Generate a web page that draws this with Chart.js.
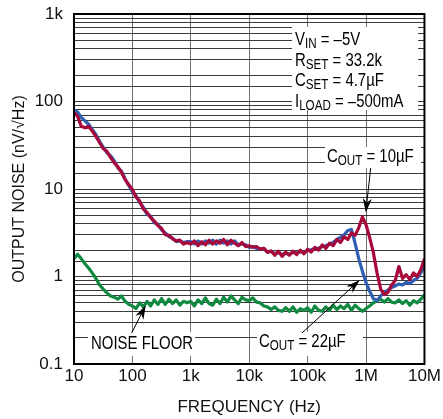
<!DOCTYPE html>
<html>
<head>
<meta charset="utf-8">
<script src="https://cdn.jsdelivr.net/npm/chart.js@4/dist/chart.umd.min.js"></script>
<style>
  body { margin: 0; background: #fff; }
  #wrap { width: 443px; height: 419px; }
</style>
</head>
<body>
<div id="wrap"><canvas id="noiseChart" width="443" height="419"></canvas></div>
<script>
// frequency points (Hz), 16 per decade
var freqHz = [
  10, 11.5, 13.3, 15.4, 17.8, 20.5, 23.7, 27.4, 31.6, 36.5, 42.2, 48.7, 56.2, 64.9, 75, 86.6,
  100, 115, 133, 154, 178, 205, 237, 274, 316, 365, 422, 487, 562, 649, 750, 866,
  1000, 1150, 1330, 1540, 1780, 2050, 2370, 2740, 3160, 3650, 4220, 4870, 5620, 6490, 7500, 8660,
  10000, 11500, 13300, 15400, 17800, 20500, 23700, 27400, 31600, 36500, 42200, 48700, 56200, 64900, 75000, 86600,
  100000, 115000, 133000, 154000, 178000, 205000, 237000, 274000, 316000, 365000, 422000, 487000, 562000, 649000, 750000, 866000,
  1000000, 1150000, 1330000, 1540000, 1780000, 2050000, 2370000, 2740000, 3160000, 3650000, 4220000, 4870000, 5620000, 6490000, 7500000, 8660000,
  10000000
];

// COUT = 10uF (nV/rtHz)
var cout10 = [
  75, 68, 52, 50, 52, 46, 40, 34, 29, 27, 23, 20, 18, 15.5, 12.8, 11.2,
  9.9, 8.1, 7.3, 5.9, 5.4, 4.7, 4.3, 3.8, 3.55, 3.0, 2.95, 2.7, 2.55, 2.6, 2.35, 2.45,
  2.35, 2.55, 2.25, 2.5, 2.3, 2.6, 2.35, 2.55, 2.4, 2.65, 2.3, 2.6, 2.4, 2.25, 2.45, 2.2,
  2.25, 2.15, 2.2, 2.05, 2.1, 1.9, 1.95, 1.75, 1.95, 1.7, 1.9, 1.75, 1.95, 1.78, 2.0, 1.82,
  2.05, 1.9, 2.15, 2.0, 2.3, 2.1, 2.4, 2.25, 2.65, 2.45, 2.85, 2.65, 3.15, 2.95, 3.6, 4.8,
  3.9, 2.8, 1.9, 1.1, 0.72, 0.62, 0.66, 0.8, 0.9, 1.3, 0.95, 1.05, 0.92, 1.1, 1.0, 1.2,
  1.6
];

// COUT = 22uF
var cout22 = [
  80, 76, 66, 60, 55, 48, 42, 35, 30, 26, 24, 21, 17.5, 16, 13, 11,
  9.3, 8.4, 7.0, 6.2, 5.1, 4.9, 4.1, 3.95, 3.4, 3.15, 2.85, 2.75, 2.5, 2.55, 2.45, 2.5,
  2.5, 2.35, 2.55, 2.35, 2.55, 2.4, 2.6, 2.35, 2.6, 2.4, 2.55, 2.35, 2.55, 2.3, 2.35, 2.3,
  2.15, 2.2, 2.1, 2.05, 2.1, 1.9, 1.95, 1.82, 1.88, 1.78, 1.84, 1.8, 1.88, 1.86, 1.92, 1.9,
  1.98, 2.02, 2.1, 2.1, 2.2, 2.25, 2.35, 2.45, 2.65, 2.8, 3.0, 3.35, 3.45, 2.4, 1.6, 1.15,
  0.85, 0.68, 0.56, 0.53, 0.6, 0.66, 0.7, 0.75, 0.78, 0.82, 0.8, 0.86, 0.83, 0.9, 0.95, 1.1,
  1.3
];

// noise floor
var noiseFloor = [
  1.6, 1.8, 1.6, 1.4, 1.25, 1.1, 0.95, 0.8, 0.72, 0.65, 0.6, 0.58, 0.55, 0.6, 0.52, 0.48,
  0.46, 0.43, 0.5, 0.45, 0.52, 0.46, 0.54, 0.48, 0.56, 0.48, 0.55, 0.49, 0.54, 0.47, 0.52, 0.5,
  0.52, 0.46, 0.54, 0.49, 0.57, 0.49, 0.47, 0.55, 0.49, 0.58, 0.51, 0.6, 0.54, 0.49, 0.58, 0.54,
  0.53, 0.57, 0.51, 0.5, 0.46, 0.45, 0.42, 0.45, 0.41, 0.4, 0.44, 0.4, 0.45, 0.39, 0.43, 0.41,
  0.44, 0.39, 0.46, 0.41, 0.4, 0.45, 0.41, 0.47, 0.42, 0.46, 0.43, 0.48, 0.41, 0.47, 0.43, 0.4,
  0.43, 0.46, 0.5, 0.53, 0.55, 0.51, 0.56, 0.51, 0.5, 0.54, 0.49, 0.53, 0.47, 0.53, 0.5, 0.55,
  0.62
];

var xLabels = { 1: '10', 2: '100', 3: '1k', 4: '10k', 5: '100k', 6: '1M', 7: '10M' };
var yLabels = { '-1': '0.1', 0: '1', 1: '10', 2: '100', 3: '1k' };

var FONT = '"Liberation Sans", Arial, sans-serif';
var SQUEEZE = 0.83; // condensed look for the notes

function pts(vals) {
  return freqHz.map(function (f, i) { return { x: f, y: vals[i] }; });
}
function decade(v) {
  var l = Math.log10(v);
  return Math.abs(l - Math.round(l)) < 1e-6 ? Math.round(l) : null;
}

// text with a subscript part, squeezed horizontally
function subText(ctx, x, y, main, sub, rest, size) {
  ctx.save();
  ctx.translate(x, y);
  ctx.scale(SQUEEZE, 1);
  var cx = 0;
  ctx.font = size + 'px ' + FONT;
  ctx.fillText(main, cx, 0);
  cx += ctx.measureText(main).width;
  ctx.font = Math.round(size * 0.78) + 'px ' + FONT;
  ctx.fillText(sub, cx, 4);
  cx += ctx.measureText(sub).width;
  ctx.font = size + 'px ' + FONT;
  ctx.fillText(rest, cx, 0);
  ctx.restore();
}

function arrow(ctx, x1, y1, x2, y2) {
  var a = Math.atan2(y2 - y1, x2 - x1);
  var c = Math.cos(a), s = Math.sin(a);
  ctx.strokeStyle = '#000';
  ctx.fillStyle = '#000';
  ctx.lineWidth = 1;
  ctx.beginPath();
  ctx.moveTo(x1, y1);
  ctx.lineTo(x2 - 10 * c, y2 - 10 * s);
  ctx.stroke();
  ctx.beginPath();
  ctx.moveTo(x2, y2);
  ctx.lineTo(x2 - 14 * c + 4.5 * s, y2 - 14 * s - 4.5 * c);
  ctx.lineTo(x2 - 10 * c, y2 - 10 * s);
  ctx.lineTo(x2 - 14 * c - 4.5 * s, y2 - 14 * s + 4.5 * c);
  ctx.closePath();
  ctx.fill();
}

var notes = {
  id: 'notes',
  afterDatasetsDraw: function (chart) {
    var ctx = chart.ctx, a = chart.chartArea;
    var xs = chart.scales.x, ys = chart.scales.y;
    ctx.save();
    ctx.textBaseline = 'middle';
    ctx.textAlign = 'left';

    // conditions box
    ctx.fillStyle = '#fff';
    ctx.fillRect(a.left + 218, a.top + 13, 126, 83);
    ctx.fillStyle = '#000';
    subText(ctx, a.left + 221, a.top + 26, 'V', 'IN', ' = \u20135V', 18);
    subText(ctx, a.left + 221, a.top + 47, 'R', 'SET', ' = 33.2k', 18);
    subText(ctx, a.left + 221, a.top + 67, 'C', 'SET', ' = 4.7\u00b5F', 18);
    subText(ctx, a.left + 221, a.top + 88, 'I', 'LOAD', ' = \u2013500mA', 18);

    // COUT = 10uF
    ctx.fillStyle = '#fff';
    ctx.fillRect(a.left + 251, a.top + 133, 96, 21);
    ctx.fillStyle = '#000';
    subText(ctx, a.left + 253, a.top + 143, 'C', 'OUT', ' = 10\u00b5F', 18);
    arrow(ctx, xs.getPixelForValue(1.2e6), ys.getPixelForValue(17.4),
      xs.getPixelForValue(9.9e5), ys.getPixelForValue(5.4));

    // COUT = 22uF
    ctx.fillStyle = '#fff';
    ctx.fillRect(a.left + 183, a.top + 318, 106, 24);
    ctx.fillStyle = '#000';
    subText(ctx, a.left + 185, a.top + 328, 'C', 'OUT', ' = 22\u00b5F', 18);
    arrow(ctx, xs.getPixelForValue(8.0e4), ys.getPixelForValue(0.226),
      xs.getPixelForValue(7.8e5), ys.getPixelForValue(0.91));

    // NOISE FLOOR
    ctx.fillStyle = '#fff';
    ctx.fillRect(a.left + 14, a.top + 318, 107, 24);
    ctx.fillStyle = '#000';
    ctx.save();
    ctx.translate(a.left + 17, a.top + 330);
    ctx.scale(SQUEEZE, 1);
    ctx.font = '18px ' + FONT;
    ctx.fillText('NOISE FLOOR', 0, 0);
    ctx.restore();
    arrow(ctx, xs.getPixelForValue(97), ys.getPixelForValue(0.226),
      xs.getPixelForValue(169), ys.getPixelForValue(0.47));

    // frame
    ctx.strokeStyle = '#000';
    ctx.lineWidth = 2;
    ctx.strokeRect(a.left, a.top, a.right - a.left, a.bottom - a.top);
    ctx.restore();
  }
};

var ctx = document.getElementById('noiseChart').getContext('2d');
new Chart(ctx, {
  type: 'line',
  data: {
    datasets: [
      { label: 'COUT = 10\u00b5F', data: pts(cout10), borderColor: '#a8083a' },
      { label: 'COUT = 22\u00b5F', data: pts(cout22), borderColor: '#2f5fb3' },
      { label: 'NOISE FLOOR', data: pts(noiseFloor), borderColor: '#108a40' }
    ]
  },
  options: {
    responsive: false,
    animation: false,
    devicePixelRatio: 1,
    elements: {
      line: { borderWidth: 3.2, tension: 0, borderJoinStyle: 'round' },
      point: { radius: 0 }
    },
    layout: { padding: { top: 14, right: 17, left: 0, bottom: 0 } },
    plugins: { legend: { display: false }, tooltip: { enabled: false } },
    scales: {
      x: {
        type: 'logarithmic',
        min: 10,
        max: 10000000,
        afterFit: function (s) { s.height = 55; },
        border: { display: false },
        grid: {
          drawTicks: false,
          lineWidth: 1,
          color: function (c) { return decade(c.tick.value) !== null ? '#6e6e6e' : 'rgba(0,0,0,0)'; }
        },
        ticks: {
          autoSkip: false,
          maxRotation: 0,
          padding: 2,
          color: '#111',
          font: { family: FONT, size: 17 },
          callback: function (v) { var d = decade(v); return d !== null ? xLabels[d] : ''; }
        },
        title: {
          display: true,
          text: 'FREQUENCY (Hz)',
          color: '#111',
          font: { family: FONT, size: 17 },
          padding: { top: 0, bottom: 1 }
        }
      },
      y: {
        type: 'logarithmic',
        min: 0.1,
        max: 1000,
        afterFit: function (s) { s.width = 74; s.paddingTop = 0; s.paddingBottom = 0; },
        border: { display: false },
        grid: { drawTicks: false, lineWidth: 1, color: '#3a3a3a' },
        ticks: {
          autoSkip: false,
          padding: 11,
          color: '#111',
          font: { family: FONT, size: 17 },
          callback: function (v) { var d = decade(v); return d !== null ? yLabels[d] : ''; }
        },
        title: {
          display: true,
          text: 'OUTPUT NOISE (nV/\u221aHz)',
          color: '#111',
          font: { family: FONT, size: 16 },
          padding: { top: 10, bottom: 0 }
        }
      }
    }
  },
  plugins: [notes]
});
</script>
</body>
</html>
